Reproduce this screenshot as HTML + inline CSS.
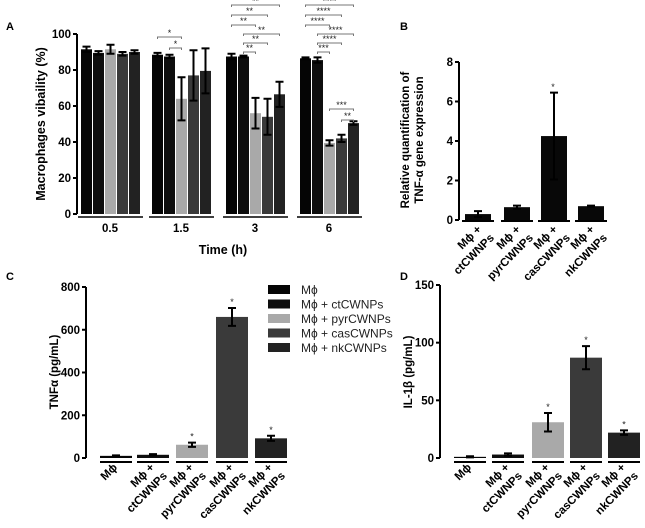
<!DOCTYPE html>
<html><head><meta charset="utf-8"><style>
body{margin:0;background:#fff;}
svg{display:block;font-family:"Liberation Sans",Arial,sans-serif;}
</style></head><body>
<svg id="fig" width="645" height="528" viewBox="0 0 645 528" xmlns="http://www.w3.org/2000/svg">
<text x="6" y="30" font-size="11" font-weight="bold">A</text>
<text x="400" y="30" font-size="11" font-weight="bold">B</text>
<text x="6" y="280" font-size="11" font-weight="bold">C</text>
<text x="400" y="280" font-size="11" font-weight="bold">D</text>
<text transform="translate(45,124) rotate(-90)" text-anchor="middle" font-size="12.5" font-weight="bold">Macrophages vibaility (%)</text>
<text x="223" y="254" text-anchor="middle" font-size="12.5" font-weight="bold">Time (h)</text>
<text transform="translate(415,140) rotate(-90)" text-anchor="middle" font-size="11.5" font-weight="bold"><tspan x="0" dy="-6">Relative quantification of</tspan><tspan x="0" dy="14">TNF-α gene expression</tspan></text>
<text transform="translate(58,372) rotate(-90)" text-anchor="middle" font-size="11.5" font-weight="bold">TNFα (pg/mL)</text>
<text transform="translate(412,372) rotate(-90)" text-anchor="middle" font-size="11.5" font-weight="bold">IL-1β (pg/mL)</text>
</svg>
<script>
// Panel A data
const aGroups = ["0.5","1.5","3","6"];
const aSeries0 = [91.5, 88.5, 87.5, 86.5];
const aSeries1 = [89.5, 87.5, 87.5, 85.5];
const aSeries2 = [91.5, 64, 56, 39.5];
const aSeries3 = [89, 77, 54, 42];
const aSeries4 = [90, 79.5, 66.5, 50.5];
const aErr0 = [1.5, 1, 1.5, 0.5];
const aErr1 = [1, 1, 0.5, 1.5];
const aErr2 = [2.5, 12, 8.5, 1.5];
const aErr3 = [1, 14, 10, 2];
const aErr4 = [1, 12.5, 7, 1];
const aTicks = [0, 20, 40, 60, 80, 100];
// Panel B data
const bCats = ["ctCWNPs","pyrCWNPs","casCWNPs","nkCWNPs"];
const bVals = [0.3, 0.65, 4.25, 0.7];
const bErrs = [0.15, 0.08, 2.2, 0.03];
const bTicks = [0, 2, 4, 6, 8];
// Panel C data
const cCats = ["Mϕ","ctCWNPs","pyrCWNPs","casCWNPs","nkCWNPs"];
const cVals = [10, 15, 62, 660, 92];
const cErrs = [2, 3, 10, 42, 12];
const cTicks = [0, 200, 400, 600, 800];
// Panel D data
const dVals = [1, 3, 31, 87, 22];
const dErrs = [0.5, 1, 8, 10, 2];
const dTicks = [0, 50, 100, 150];
const legendLabels = ["Mϕ","Mϕ + ctCWNPs","Mϕ + pyrCWNPs","Mϕ + casCWNPs","Mϕ + nkCWNPs"];

const colors = ["#050505","#0e0e0e","#a9a9a9","#3a3a3a","#222222"];
const NS = "http://www.w3.org/2000/svg";
const svg = document.getElementById("fig");
function mk(tag, attrs, parent){
  const e = document.createElementNS(NS, tag);
  for (const k in attrs) e.setAttribute(k, attrs[k]);
  (parent||svg).appendChild(e);
  return e;
}
function yAxis(x, y0, y1, vmax, ticks, name, fs){
  const g = mk("g", {});
  
  
  mk("line",{x1:x,y1:y0,x2:x,y2:y1,stroke:"#000","stroke-width":2},g);
  ticks.forEach(t=>{
    const y = y0 - (t/vmax)*(y0-y1);
    mk("line",{x1:x-4,y1:y,x2:x,y2:y,stroke:"#000","stroke-width":2},g);
    const tx = mk("text",{x:x-6,y:y+4,"text-anchor":"end","font-size":fs,"font-weight":"bold"},g);
    tx.textContent = t;
  });
}
function bar(x, w, y0, y1, vmax, v, err, color, name){
  const sc = (y0-y1)/vmax;
  const top = y0 - v*sc;
  const r = mk("rect",{x:x,y:top,width:w,height:Math.max(0,y0-top),fill:color});
  
  
  const cx = x + w/2, hi = y0-(v+err)*sc, lo = y0-(v-err)*sc;
  const eb = mk("path",{d:`M${cx},${hi}V${lo}M${cx-4},${hi}H${cx+4}M${cx-4},${lo}H${cx+4}`,stroke:"#000","stroke-width":2,fill:"none"});
  
  
}
function star(x, y, s){
  const t = mk("text",{x:x,y:y,"text-anchor":"middle","font-size":9,fill:"#222"});
  t.textContent = s;
  
  
}
function rotLabel(x, y, lines, name){
  const t = mk("text",{transform:`translate(${x},${y}) rotate(-45)`,"text-anchor":"end","font-size":11.5,"font-weight":"bold"});
  
  
  lines.forEach((l,i)=>{
    const ts = mk("tspan",{x:i*3,dy:i?15:0},t);
    ts.textContent = l;
  });
}

// ---- Panel A ----
{
  const y0=214, y1=34, vmax=100;
  yAxis(77, y0, y1, vmax, aTicks, "panel-a-y-axis", 11.5);
  const gx = [81, 152, 226, 300];
  const series = [aSeries0,aSeries1,aSeries2,aSeries3,aSeries4];
  const errs = [aErr0,aErr1,aErr2,aErr3,aErr4];
  const bw=11, step=12;
  aGroups.forEach((g,gi)=>{
    for(let s=0;s<5;s++){
      bar(gx[gi]+s*step, bw, y0, y1, vmax, series[s][gi], errs[s][gi], colors[s], `bar-${g}h-series${s+1}`);
    }
    const ul = mk("line",{x1:gx[gi]-3,y1:217,x2:gx[gi]+5*step+2,y2:217,stroke:"#000","stroke-width":1.5});
    
    
    const t = mk("text",{x:gx[gi]+29,y:232,"text-anchor":"middle","font-size":11.5,"font-weight":"bold"});
    t.textContent = g;
    
    
  });
  function brk(gi, a, b, y, s){
    const xa = gx[gi]+a*step+bw/2, xb = gx[gi]+b*step+bw/2;
    const p = mk("path",{d:`M${xa},${y+2}V${y}H${xb}V${y+2}`,stroke:"#777","stroke-width":1,fill:"none"});
    
    
    star((xa+xb)/2, y-1, s);
  }
  brk(1,0,2,37,"*"); brk(1,1,2,48,"*");
  [[0,4,5],[0,3,15],[0,2,25],[1,4,34],[1,3,43],[1,2,52]].forEach(b=>brk(2,b[0],b[1],b[2],"**"));
  brk(3,0,4,5,"****"); brk(3,0,3,15,"****"); brk(3,0,2,25,"****");
  brk(3,1,4,34,"****"); brk(3,1,3,43,"****"); brk(3,1,2,52,"***");
  brk(3,2,4,109,"***"); brk(3,3,4,120,"**");
}
// ---- Panel B ----
{
  const y0=220, y1=62, vmax=8;
  yAxis(459, y0, y1, vmax, bTicks, "panel-b-y-axis", 11.5);
  const bx=[465,504,541,578], bw=26;
  bCats.forEach((c,i)=>{
    bar(bx[i], bw, y0, y1, vmax, bVals[i], bErrs[i], "#080808", `bar-b-${c}`);
    mk("line",{x1:bx[i]-3,y1:221,x2:bx[i]+bw+3,y2:221,stroke:"#000","stroke-width":2});
    rotLabel(bx[i]+bw/2+4, 230, ["Mϕ +", c], `x-label-b-${c}`);
  });
  star(553, 90, "*");
}
// ---- Panel C ----
{
  const y0=458, y1=287, vmax=800;
  yAxis(86, y0, y1, vmax, cTicks, "panel-c-y-axis", 11.5);
  const cx=[100,137,176,216,255], bw=32;
  cCats.forEach((c,i)=>{
    bar(cx[i], bw, y0, y1, vmax, cVals[i], cErrs[i], colors[i], `bar-c-${c}`);
    mk("line",{x1:cx[i],y1:462,x2:cx[i]+bw,y2:462,stroke:"#000","stroke-width":2});
    rotLabel(cx[i]+bw/2+2, 468, i===0?["Mϕ"]:["Mϕ +", c], `x-label-c-${c}`);
    if(i>=2) star(cx[i]+bw/2, y0-(cVals[i]+cErrs[i])*(y0-y1)/vmax-3, "*");
  });
  legendLabels.forEach((l,i)=>{
    const y = 285+i*14.5;
    const r = mk("rect",{x:268,y:y,width:22,height:9,fill:colors[i]});
    
    
    const t = mk("text",{x:301,y:y+9,"font-size":12,fill:"#222"});
    t.textContent = l;
    
    
  });
}
// ---- Panel D ----
{
  const y0=458, y1=285, vmax=150;
  yAxis(440, y0, y1, vmax, dTicks, "panel-d-y-axis", 11.5);
  const dx=[454,492,532,570,608], bw=32;
  cCats.forEach((c,i)=>{
    bar(dx[i], bw, y0, y1, vmax, dVals[i], dErrs[i], colors[i], `bar-d-${c}`);
    mk("line",{x1:dx[i],y1:462,x2:dx[i]+bw,y2:462,stroke:"#000","stroke-width":2});
    rotLabel(dx[i]+bw/2+2, 468, i===0?["Mϕ"]:["Mϕ +", c], `x-label-d-${c}`);
    if(i>=2) star(dx[i]+bw/2, y0-(dVals[i]+dErrs[i])*(y0-y1)/vmax-3, "*");
  });
}
</script>
</body></html>
